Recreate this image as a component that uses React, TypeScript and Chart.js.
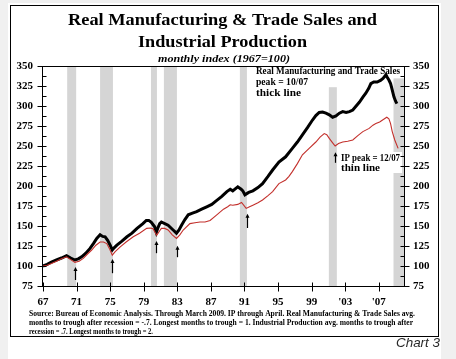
import React, { useEffect, useRef } from "react";
import { Chart, registerables } from "chart.js";

Chart.register(...registerables);

// ---- Data ----
const SALES_YEARS = [
  1967.0, 1967.5, 1968.0, 1968.6, 1969.2, 1969.8, 1970.3, 1970.8, 1971.2, 1971.6,
  1972.1, 1972.6, 1973.0, 1973.4, 1973.8, 1974.1, 1974.4, 1974.7, 1975.0, 1975.25,
  1975.5, 1975.8, 1976.4, 1977.0, 1977.6, 1978.2, 1978.9, 1979.3, 1979.6, 1979.9,
  1980.3, 1980.5, 1980.7, 1980.9, 1981.1, 1981.5, 1981.9, 1982.5, 1982.9, 1983.2,
  1983.5, 1983.9, 1984.3, 1984.8, 1985.3, 1985.9, 1986.5, 1987.1, 1987.7, 1988.3,
  1988.9, 1989.3, 1989.6, 1990.2, 1990.6, 1990.8, 1991.05, 1991.5, 1992.0, 1992.6,
  1993.15, 1993.8, 1994.35, 1995.1, 1995.9, 1996.7, 1997.3, 1997.9, 1998.5, 1999.1,
  1999.5, 1999.9, 2000.3, 2000.7, 2001.1, 2001.5, 2001.9, 2002.3, 2002.7, 2003.1,
  2003.5, 2003.9, 2004.3, 2004.7, 2005.1, 2005.45, 2005.8, 2006.05, 2006.4, 2006.8,
  2007.2, 2007.5, 2007.85, 2008.0, 2008.2, 2008.4, 2008.55, 2008.8, 2009.0, 2009.15,
];
const SALES_VALUES = [
  100, 102, 105, 107.5, 110, 113, 110, 107.5, 109, 111.5,
  116, 122, 128, 134.5, 139, 137, 136.5, 132, 126, 120,
  123, 126, 131, 136.5, 141, 147, 153, 157, 157, 154.5,
  149, 142, 148, 153, 155, 153, 151, 145, 141, 145,
  151, 158, 164, 166, 168, 171, 174, 177, 182, 187,
  193, 196, 194, 199, 196, 194, 189, 192, 194, 198,
  203, 212, 220, 230, 236.5, 247, 255, 264, 273, 282.5,
  288, 292, 292.5, 291, 289, 286, 287.5, 291, 293, 292,
  293, 295, 300, 305, 311, 316, 322, 328, 330, 330,
  332, 334.5, 339, 336, 332.5, 328, 322, 311.5, 306, 303,
];

const IP_YEARS = [
  1967.0, 1967.5, 1968.0, 1968.6, 1969.2, 1969.8, 1970.3, 1970.8, 1971.3, 1971.8,
  1972.3, 1972.8, 1973.3, 1973.8, 1974.2, 1974.6, 1974.9, 1975.25, 1975.6, 1976.2,
  1976.9, 1977.75, 1978.5, 1979.35, 1979.8, 1980.1, 1980.55, 1980.9, 1981.1, 1981.5,
  1981.9, 1982.4, 1982.9, 1983.3, 1983.7, 1984.5, 1985.1, 1985.7, 1986.3, 1986.9,
  1987.7, 1988.5, 1989.0, 1989.3, 1989.6, 1990.2, 1990.65, 1991.2, 1991.6, 1992.0,
  1992.6, 1993.15, 1993.8, 1994.35, 1995.1, 1995.9, 1996.3, 1996.7, 1997.3, 1997.9,
  1998.7, 1999.5, 2000.0, 2000.5, 2000.8, 2001.1, 2001.5, 2001.8, 2002.2, 2002.7,
  2003.3, 2003.9, 2004.5, 2005.1, 2005.85, 2006.3, 2006.65, 2007.1, 2007.45, 2007.95,
  2008.2, 2008.4, 2008.6, 2008.9, 2009.3,
];
const IP_VALUES = [
  100, 101, 103, 106, 109, 111.5, 108, 104.5, 106, 109.5,
  115, 120, 126, 130, 130, 128, 122, 113.5, 118, 124,
  130, 136.5, 141, 147, 147.5, 146.5, 138.5, 144, 147, 147,
  145, 139, 134.5, 139, 145, 153, 154, 155, 155, 157,
  164, 171, 174, 176.5, 176, 177, 179.5, 172, 174, 176,
  179, 182.5, 188, 193, 203, 207.5, 212, 218, 228, 239,
  247, 255, 261, 265.5, 264, 259.5, 254, 250, 253, 255,
  256, 257.5, 263, 268, 272, 276, 278, 280, 282.5, 286,
  284, 278, 268, 257.5, 247,
];

const X_MIN = 1966.88;
const X_MAX = 2010.0;
const Y_MIN = 75;
const Y_MAX = 350;
const Y_STEP = 25;
const X_TICK_YEARS = [1967, 1971, 1975, 1979, 1983, 1987, 1991, 1995, 1999, 2003, 2007];
const X_TICK_LABELS = ["67", "71", "75", "79", "83", "87", "91", "95", "99", "'03", "'07"];

// recession shading
const REC_START = [1969.88, 1973.8, 1979.86, 1981.4, 1990.45, 2001.05, 2008.75];
const REC_END = [1970.95, 1975.33, 1980.57, 1982.95, 1991.29, 2002.0, 2010.0];
const REC_TOP = [350, 350, 350, 350, 350, 323.5, 334.5];

// trough arrows
const ARROW_YEARS = [1970.8, 1975.2, 1980.45, 1982.95, 1991.3, 2001.75];
const ARROW_TOPS = [97.5, 107.5, 130, 124, 164, 241];
const ARROW_BOTTOMS = [82.5, 91, 116, 111, 147.5, 229];

const TITLE_LINES = ["Real Manufacturing & Trade Sales and", "Industrial Production"];
const SUBTITLE = "monthly index (1967=100)";
const SALES_NOTE = ["Real Manufacturing and Trade Sales", "peak = 10/07", "thick line"];
const IP_NOTE = ["IP peak = 12/07", "thin line"];
const SOURCE_LINES = [
  "Source: Bureau of Economic Analysis. Through March 2009. IP through April. Real Manufacturing & Trade Sales avg.",
  "months to trough after recession = -.7. Longest months to trough = 1. Industrial Production avg. months to trough after",
  "recession = .7. Longest months to trough = 2.",
];
const CHART_LABEL = "Chart 3";

const SERIF = "'Liberation Serif', 'Times New Roman', serif";
const SANS = "'Liberation Sans', Arial, sans-serif";

function fitText(ctx: CanvasRenderingContext2D, text: string, x: number, y: number, w: number, align: "left" | "center") {
  const m = ctx.measureText(text).width;
  const s = w / m;
  ctx.save();
  ctx.translate(x, y);
  ctx.scale(s, 1);
  ctx.textAlign = "left";
  ctx.textBaseline = "alphabetic";
  ctx.fillText(text, align === "center" ? -m / 2 : 0, 0);
  ctx.restore();
}

const decorPlugin = {
  id: "decor",
  beforeDraw(chart: any) {
    const ctx: CanvasRenderingContext2D = chart.ctx;
    ctx.save();
    ctx.fillStyle = "#f0f0f0";
    ctx.fillRect(0, 0, chart.width, chart.height);
    ctx.fillStyle = "#ffffff";
    ctx.fillRect(8, 3, 433, 356);
    ctx.strokeStyle = "#000";
    ctx.lineWidth = 1;
    ctx.strokeRect(10.5, 5.5, 428, 331);

    ctx.fillStyle = "#000";
    ctx.font = `bold 17px ${SERIF}`;
    fitText(ctx, TITLE_LINES[0], 222.5, 25, 309, "center");
    fitText(ctx, TITLE_LINES[1], 222.5, 47, 169, "center");
    ctx.font = `italic bold 11px ${SERIF}`;
    fitText(ctx, SUBTITLE, 224, 62, 132, "center");

    ctx.font = `bold 7.5px ${SERIF}`;
    fitText(ctx, SOURCE_LINES[0], 29, 315.5, 386, "left");
    fitText(ctx, SOURCE_LINES[1], 29, 324.5, 384, "left");
    fitText(ctx, SOURCE_LINES[2], 29, 333.5, 124, "left");

    ctx.fillStyle = "#2a2a2a";
    ctx.font = `italic 13px ${SANS}`;
    fitText(ctx, CHART_LABEL, 396, 347, 44, "left");
    ctx.restore();
  },
  beforeDatasetsDraw(chart: any) {
    const ctx: CanvasRenderingContext2D = chart.ctx;
    const xs = chart.scales.x;
    const ys = chart.scales.y;
    const a = chart.chartArea;
    ctx.save();
    ctx.beginPath();
    ctx.rect(a.left, a.top, a.right - a.left, a.bottom - a.top);
    ctx.clip();
    ctx.fillStyle = "#d5d5d5";
    for (let i = 0; i < REC_START.length; i++) {
      const x0 = xs.getPixelForValue(REC_START[i]);
      const x1 = xs.getPixelForValue(REC_END[i]);
      const y0 = ys.getPixelForValue(REC_TOP[i]);
      ctx.fillRect(x0, y0, x1 - x0, a.bottom - y0);
    }
    // note boxes
    ctx.fillStyle = "#fff";
    ctx.fillRect(255, a.top + 1, 146, 9);
    ctx.fillRect(339, 152, 63, 21);
    ctx.fillStyle = "#000";
    ctx.font = `bold 10px ${SERIF}`;
    fitText(ctx, SALES_NOTE[0], 256, 73.5, 144, "left");
    fitText(ctx, SALES_NOTE[1], 256, 85, 52, "left");
    fitText(ctx, SALES_NOTE[2], 256, 95.5, 45, "left");
    fitText(ctx, IP_NOTE[0], 341, 160.5, 59, "left");
    fitText(ctx, IP_NOTE[1], 341, 171, 39, "left");
    ctx.restore();
  },
  afterDatasetsDraw(chart: any) {
    const ctx: CanvasRenderingContext2D = chart.ctx;
    const xs = chart.scales.x;
    const ys = chart.scales.y;
    const a = chart.chartArea;
    ctx.save();
    ctx.strokeStyle = "#000";
    ctx.fillStyle = "#000";
    // arrows
    ctx.lineWidth = 1.2;
    for (let i = 0; i < ARROW_YEARS.length; i++) {
      const x = Math.round(xs.getPixelForValue(ARROW_YEARS[i])) + 0.5;
      const yt = ys.getPixelForValue(ARROW_TOPS[i]);
      const yb = ys.getPixelForValue(ARROW_BOTTOMS[i]);
      ctx.beginPath();
      ctx.moveTo(x, yb);
      ctx.lineTo(x, yt + 2);
      ctx.stroke();
      ctx.beginPath();
      ctx.moveTo(x, yt - 1);
      ctx.lineTo(x - 2, yt + 3);
      ctx.lineTo(x + 2, yt + 3);
      ctx.closePath();
      ctx.fill();
    }
    // frame
    ctx.lineWidth = 1;
    const L = Math.round(a.left) + 0.5;
    const R = Math.round(a.right) + 0.5;
    const T = Math.round(a.top) + 0.5;
    const B = Math.round(a.bottom) + 0.5;
    ctx.strokeRect(L, T, R - L, B - T);
    // y ticks (major crossing, minor inside)
    ctx.beginPath();
    for (let v = Y_MIN; v <= Y_MAX + 0.01; v += Y_STEP / 2) {
      const y = Math.round(ys.getPixelForValue(v)) + 0.5;
      const major = Math.abs(((v - Y_MIN) / Y_STEP) - Math.round((v - Y_MIN) / Y_STEP)) < 0.01;
      if (major) {
        ctx.moveTo(L - 5, y); ctx.lineTo(L + 4, y);
        ctx.moveTo(R - 4, y); ctx.lineTo(R + 5, y);
      } else {
        ctx.moveTo(L, y); ctx.lineTo(L + 4, y);
        ctx.moveTo(R - 4, y); ctx.lineTo(R, y);
      }
    }
    for (const yr of X_TICK_YEARS) {
      const x = Math.round(xs.getPixelForValue(yr)) + 0.5;
      ctx.moveTo(x, B - 4); ctx.lineTo(x, B + 5);
    }
    ctx.stroke();
    ctx.restore();
  },
};

export default function App() {
  const ref = useRef<HTMLCanvasElement>(null);
  useEffect(() => {
    const canvas = ref.current;
    if (!canvas) return;
    const tickFont = { family: SERIF, size: 11, weight: "bold" as const };
    const chart = new Chart(canvas, {
      type: "line",
      data: {
        datasets: [
          {
            label: "Industrial Production",
            data: IP_YEARS.map((x, i) => ({ x, y: IP_VALUES[i] })),
            borderColor: "#c3302c",
            borderWidth: 1.1,
            pointRadius: 0,
            tension: 0,
            order: 0,
          },
          {
            label: "Real Manufacturing and Trade Sales",
            data: SALES_YEARS.map((x, i) => ({ x, y: SALES_VALUES[i] })),
            borderColor: "#000000",
            borderWidth: 3,
            pointRadius: 0,
            tension: 0,
            order: 1,
          },
        ],
      },
      options: {
        responsive: false,
        animation: false,
        devicePixelRatio: 1,
        layout: { padding: { left: 10, right: 18, top: 66, bottom: 47 } },
        plugins: { legend: { display: false }, tooltip: { enabled: false }, title: { display: false } },
        scales: {
          x: {
            type: "linear",
            position: "bottom",
            min: X_MIN,
            max: X_MAX,
            grid: { display: false, drawTicks: false },
            border: { display: false },
            afterBuildTicks: (s: any) => {
              s.ticks = X_TICK_YEARS.map((v) => ({ value: v }));
            },
            afterFit: (s: any) => {
              s.height = 26;
            },
            ticks: {
              autoSkip: false,
              maxRotation: 0,
              padding: 10,
              color: "#000",
              font: tickFont,
              callback: (_v: any, i: number) => X_TICK_LABELS[i],
            },
          },
          y: {
            type: "linear",
            position: "left",
            min: Y_MIN,
            max: Y_MAX,
            grid: { display: false, drawTicks: false },
            border: { display: false },
            afterFit: (s: any) => {
              s.width = 32;
            },
            ticks: { stepSize: Y_STEP, padding: 9, color: "#000", font: tickFont },
          },
          y2: {
            type: "linear",
            position: "right",
            min: Y_MIN,
            max: Y_MAX,
            grid: { display: false, drawTicks: false },
            border: { display: false },
            afterFit: (s: any) => {
              s.width = 34;
            },
            ticks: { stepSize: Y_STEP, padding: 9, color: "#000", font: tickFont },
          },
        },
      },
      plugins: [decorPlugin],
    });
    return () => chart.destroy();
  }, []);
  return (
    <div style={{ position: "fixed", left: 0, top: 0, width: 456, height: 359, background: "#f0f0f0" }}>
      <canvas ref={ref} width={456} height={359} style={{ display: "block", width: 456, height: 359 }} />
    </div>
  );
}
